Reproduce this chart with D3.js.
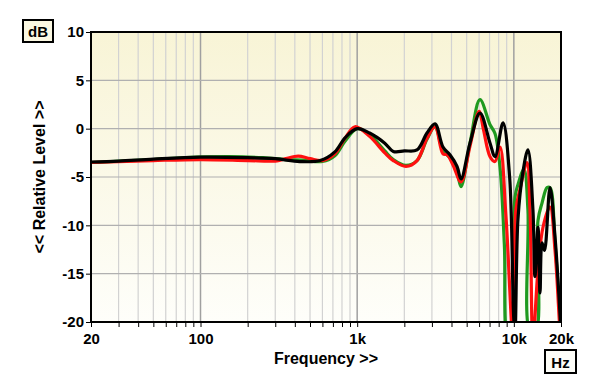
<!DOCTYPE html>
<html>
<head>
<meta charset="utf-8">
<script src="https://cdn.jsdelivr.net/npm/d3@7"></script>
<style>
  body { margin: 0; background: #fff; }
  svg { display: block; font-family: "Liberation Sans", Arial, sans-serif; }
</style>
</head>
<body>
<div id="chart"></div>
<script>
// frequency response, three channels/positions
const greenFreq = [20, 50, 80, 150, 250, 350, 450, 600, 720, 836, 1000, 1200, 1500, 1700, 2050, 2410, 2790, 3140, 3530, 3910, 4340, 4600, 5250, 6080, 7050, 7580, 8160, 8700, 9200, 9700, 10170, 10620, 11600, 12300, 12700, 13800, 14260, 15130, 16290, 17020, 18320, 20000];
const greenDb   = [-3.5, -3.2, -3.0, -2.9, -3.0, -3.2, -3.25, -3.4, -2.8, -1.3, 0.0, -0.6, -2.3, -3.2, -3.8, -3.3, -1.1, 0.2, -2.3, -3.0, -4.5, -6.0, -1.5, 3.0, 0.4, -0.5, -4.0, -12.0, -22, -22, -7.1, -5.8, -4.2, -8.4, -21, -21, -9.5, -7.7, -6.1, -6.1, -11.8, -21];

const redFreq = [20, 50, 100, 200, 300, 350, 420, 500, 600, 720, 836, 968, 1200, 1500, 1700, 2050, 2410, 2790, 3140, 3530, 3750, 4100, 4600, 5250, 6000, 6400, 7050, 7580, 8160, 8900, 9900, 10300, 10940, 12130, 12680, 13240, 14260, 15350, 17020, 18320, 19720, 20000];
const redDb   = [-3.5, -3.3, -3.2, -3.3, -3.35, -3.1, -2.85, -3.1, -3.3, -2.6, -1.0, 0.2, -0.8, -2.5, -3.3, -3.9, -3.3, -1.0, 0.2, -2.6, -2.7, -3.8, -5.5, -1.8, 1.8, -0.1, -2.9, -3.4, -1.9, -9.0, -22, -8.4, -6.3, -3.5, -8.4, -22, -14.6, -10.2, -8.1, -12.6, -21, -22];

const blackFreq = [20, 30, 50, 100, 200, 300, 430, 580, 720, 836, 1000, 1200, 1500, 1700, 2000, 2410, 2790, 3140, 3530, 3910, 4340, 4600, 5250, 6080, 7050, 7580, 8530, 9400, 9980, 10170, 10620, 11400, 12300, 13240, 13640, 14260, 14690, 15130, 15700, 17020, 18320, 20000];
const blackDb   = [-3.45, -3.35, -3.15, -2.95, -3.0, -3.1, -3.4, -3.3, -2.4, -0.95, 0.0, -0.45, -1.5, -2.35, -2.3, -2.2, -0.45, 0.5, -1.9, -2.7, -3.9, -5.2, -1.5, 1.6, -1.5, -2.9, 0.6, -5.0, -19.5, -21, -9.4, -4.6, -2.2, -8.4, -15.3, -10.2, -17.0, -11.8, -12.6, -6.1, -11.2, -21];

const yTicks = [10, 5, 0, -5, -10, -15, -20];
const xLabels = [20, 100, 1000, 10000, 20000];
const gridFreqs = [30, 40, 50, 60, 70, 80, 90, 100, 200, 300, 400, 500, 600, 700, 800, 900, 1000,
                   2000, 3000, 4000, 5000, 6000, 7000, 8000, 9000, 10000];

const series = [
  { name: "green", color: "#1f9a1f", freq: greenFreq, db: greenDb },
  { name: "red", color: "#ff1010", freq: redFreq, db: redDb },
  { name: "black", color: "#000000", freq: blackFreq, db: blackDb }
];

const width = 600, height = 387;
const margin = { left: 91, right: 39, top: 32, bottom: 65 };

const svg = d3.select("#chart").append("svg")
  .attr("width", width)
  .attr("height", height);

const x = d3.scaleLog().domain([20, 20000]).range([margin.left, width - margin.right]);
const y = d3.scaleLinear().domain([-20, 10]).range([height - margin.bottom, margin.top]);

const defs = svg.append("defs");
const grad = defs.append("linearGradient")
  .attr("id", "bg").attr("x1", 0).attr("y1", 0).attr("x2", 0).attr("y2", 1);
grad.append("stop").attr("offset", "0%").attr("stop-color", "#f8f4d6");
grad.append("stop").attr("offset", "100%").attr("stop-color", "#fefefa");

defs.append("clipPath").attr("id", "plot-clip")
  .append("rect")
  .attr("x", x(20)).attr("y", y(10))
  .attr("width", x(20000) - x(20)).attr("height", y(-20) - y(10));

svg.append("rect")
  .attr("x", x(20)).attr("y", y(10))
  .attr("width", x(20000) - x(20)).attr("height", y(-20) - y(10))
  .attr("fill", "url(#bg)");

// vertical grid
svg.append("g").selectAll("line")
  .data(gridFreqs)
  .join("line")
  .attr("x1", d => x(d)).attr("x2", d => x(d))
  .attr("y1", y(10)).attr("y2", y(-20))
  .attr("stroke", d => [100, 1000, 10000].includes(d) ? "#a0a0a0" : "#d2d2d2")
  .attr("stroke-width", d => [100, 1000, 10000].includes(d) ? 1.5 : 1.2);

// horizontal grid
svg.append("g").selectAll("line")
  .data(yTicks.filter(d => d > -20 && d < 10))
  .join("line")
  .attr("x1", x(20)).attr("x2", x(20000))
  .attr("y1", d => y(d)).attr("y2", d => y(d))
  .attr("stroke", "#b0b0b0")
  .attr("stroke-width", 1.2);

// curves
const line = d3.line()
  .x(d => x(d[0]))
  .y(d => y(d[1]))
  .curve(d3.curveCatmullRom.alpha(0.5));

svg.append("g")
  .attr("clip-path", "url(#plot-clip)")
  .selectAll("path")
  .data(series)
  .join("path")
  .attr("fill", "none")
  .attr("stroke", d => d.color)
  .attr("stroke-width", 3.2)
  .attr("stroke-linejoin", "round")
  .attr("d", d => line(d.freq.map((f, i) => [f, d.db[i]])));

// frame
svg.append("rect")
  .attr("x", x(20)).attr("y", y(10))
  .attr("width", x(20000) - x(20)).attr("height", y(-20) - y(10))
  .attr("fill", "none")
  .attr("stroke", "#000")
  .attr("stroke-width", 2);

// y axis
const yAxis = d3.axisLeft(y)
  .tickValues(yTicks)
  .tickSize(4)
  .tickPadding(2)
  .tickFormat(d => d);
svg.append("g")
  .attr("transform", `translate(${x(20) - 1},0)`)
  .call(yAxis)
  .call(g => g.select(".domain").remove())
  .call(g => g.selectAll("text")
    .attr("font-size", 15).attr("font-weight", "bold")
    .attr("font-family", "Liberation Sans, Arial, sans-serif")
    .attr("fill", "#000"));

// x axis
const xAxis = d3.axisBottom(x)
  .tickValues([20].concat(gridFreqs, [20000]))
  .tickSize(4)
  .tickFormat(d => xLabels.includes(d) ? (d >= 1000 ? d / 1000 + "k" : d) : "");
svg.append("g")
  .attr("transform", `translate(0,${y(-20) + 1})`)
  .call(xAxis)
  .call(g => g.select(".domain").remove())
  .call(g => g.selectAll("text")
    .attr("font-size", 15).attr("font-weight", "bold")
    .attr("font-family", "Liberation Sans, Arial, sans-serif")
    .attr("fill", "#000")
    .attr("dy", "0.9em"));

// axis titles
svg.append("text")
  .attr("x", 326).attr("y", 364)
  .attr("text-anchor", "middle")
  .attr("font-size", 16).attr("font-weight", "bold")
  .text("Frequency >>");

svg.append("text")
  .attr("transform", `translate(45,${(y(10) + y(-20)) / 2}) rotate(-90)`)
  .attr("text-anchor", "middle")
  .attr("font-size", 16).attr("font-weight", "bold")
  .text("<< Relative Level >>");

// unit boxes
svg.append("rect")
  .attr("x", 23).attr("y", 20).attr("width", 30).attr("height", 22)
  .attr("fill", "#fbf8e2").attr("stroke", "#000").attr("stroke-width", 2);
svg.append("text")
  .attr("x", 38).attr("y", 37)
  .attr("text-anchor", "middle")
  .attr("font-size", 15).attr("font-weight", "bold")
  .text("dB");

svg.append("rect")
  .attr("x", 545).attr("y", 350).attr("width", 31).attr("height", 23)
  .attr("fill", "#fdfdf8").attr("stroke", "#000").attr("stroke-width", 2);
svg.append("text")
  .attr("x", 560.5).attr("y", 368)
  .attr("text-anchor", "middle")
  .attr("font-size", 15).attr("font-weight", "bold")
  .text("Hz");
</script>
</body>
</html>
